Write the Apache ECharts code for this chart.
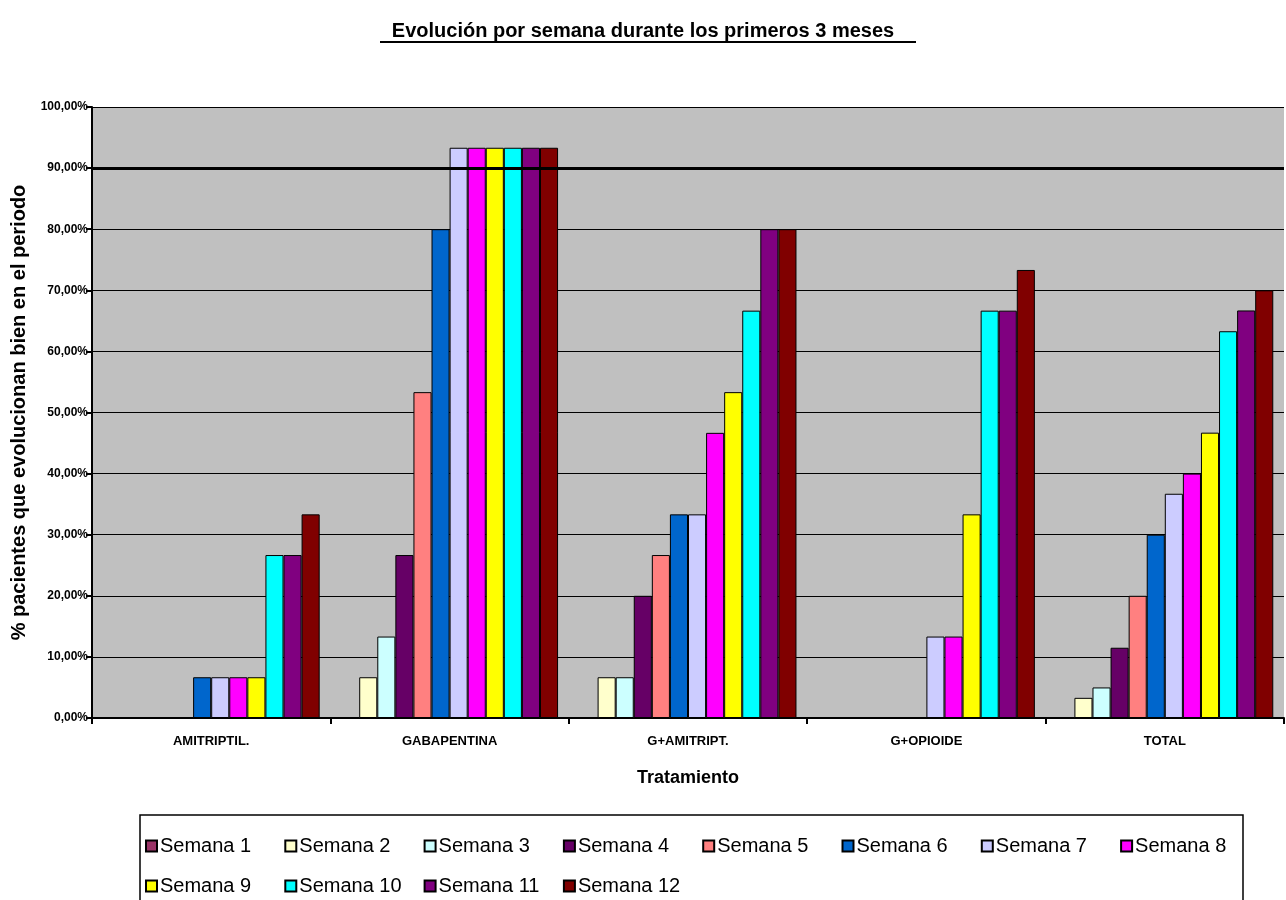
<!DOCTYPE html>
<html>
<head>
<meta charset="utf-8">
<title>Evolución por semana</title>
<script src="https://cdn.jsdelivr.net/npm/echarts@6/dist/echarts.min.js"></script>
<style>
  html, body { margin: 0; padding: 0; background: #fff; }
  #chart { width: 1286px; height: 900px; }
</style>
</head>
<body>
<div id="chart"></div>
<script>
// Treatments on the category axis
const categories = ['AMITRIPTIL.', 'GABAPENTINA', 'G+AMITRIPT.', 'G+OPIOIDE', 'TOTAL'];

// Weekly share of patients doing well (%), one value per treatment
const semana1  = [0, 0, 0, 0, 0];
const semana2  = [0, 6.67, 6.67, 0, 3.3];
const semana3  = [0, 13.33, 6.67, 0, 5];
const semana4  = [0, 26.67, 20, 0, 11.5];
const semana5  = [0, 53.33, 26.67, 0, 20];
const semana6  = [6.67, 80, 33.33, 0, 30];
const semana7  = [6.67, 93.33, 33.33, 13.33, 36.7];
const semana8  = [6.67, 93.33, 46.67, 13.33, 40];
const semana9  = [6.67, 93.33, 53.33, 33.33, 46.7];
const semana10 = [26.67, 93.33, 66.67, 66.67, 63.3];
const semana11 = [26.67, 93.33, 80, 66.67, 66.7];
const semana12 = [33.33, 93.33, 80, 73.33, 70];

const seriesNames = ['Semana 1', 'Semana 2', 'Semana 3', 'Semana 4', 'Semana 5', 'Semana 6',
                     'Semana 7', 'Semana 8', 'Semana 9', 'Semana 10', 'Semana 11', 'Semana 12'];
const seriesValues = [semana1, semana2, semana3, semana4, semana5, semana6,
                      semana7, semana8, semana9, semana10, semana11, semana12];
const seriesColors = ['#993366', '#FFFFCC', '#CCFFFF', '#660066', '#FF8080', '#0066CC',
                      '#CCCCFF', '#FF00FF', '#FFFF00', '#00FFFF', '#800080', '#800000'];

// Y axis ticks and the highlighted reference level
const yTicks = [0, 10, 20, 30, 40, 50, 60, 70, 80, 90, 100];
const referenceLevel = 90;

const FONT = '"Liberation Sans", Arial, sans-serif';

const chart = echarts.init(document.getElementById('chart'), null, { renderer: 'canvas' });

const barSeries = seriesNames.map((name, i) => ({
  name: name,
  type: 'bar',
  data: seriesValues[i],
  barGap: '0%',
  barCategoryGap: '9%',
  itemStyle: { color: seriesColors[i], borderColor: '#000', borderWidth: 1 },
  emphasis: { disabled: true },
  z: 3
}));

// Thick reference line drawn behind the bars
barSeries.push({
  name: 'ref',
  type: 'line',
  data: [],
  z: 1,
  silent: true,
  markLine: {
    silent: true,
    symbol: 'none',
    label: { show: false },
    lineStyle: { color: '#000', width: 3, type: 'solid' },
    data: [{ yAxis: referenceLevel }]
  }
});

// Legend laid out as a fixed grid: 8 entries per row, equal column width
const LEGEND_PER_ROW = 8;
const legends = seriesNames.map((name, i) => ({
  data: [name],
  left: 145 + 139.3 * (i % LEGEND_PER_ROW),
  top: 836 + 40 * Math.floor(i / LEGEND_PER_ROW),
  itemWidth: 11,
  itemHeight: 11,
  icon: 'rect',
  padding: 0,
  selectedMode: false,
  textStyle: { fontFamily: FONT, fontSize: 20, color: '#000', padding: [0, 0, 0, -2] }
}));

chart.setOption({
  animation: false,
  backgroundColor: '#fff',
  title: {
    text: 'Evolución por semana durante los primeros 3 meses',
    left: 'center',
    top: 16,
    textStyle: { fontFamily: FONT, fontSize: 20, fontWeight: 'bold', color: '#000' }
  },
  graphic: [
    {
      type: 'line',
      shape: { x1: 380, y1: 42, x2: 916, y2: 42 },
      style: { stroke: '#000', lineWidth: 2 }
    },
    {
      type: 'rect',
      shape: { x: 140, y: 815, width: 1103, height: 100 },
      style: { fill: 'none', stroke: '#000', lineWidth: 1.5 },
      z: 0
    }
  ],
  legend: legends,
  grid: {
    left: 92,
    right: 2,
    top: 107,
    bottom: 182,
    show: true,
    backgroundColor: '#C0C0C0',
    borderWidth: 0,
    containLabel: false,
    outerBoundsMode: 'none'
  },
  xAxis: {
    type: 'category',
    data: categories,
    name: 'Tratamiento',
    nameLocation: 'middle',
    nameGap: 51,
    nameTextStyle: { fontFamily: FONT, fontSize: 18, fontWeight: 'bold', color: '#000' },
    axisLine: { lineStyle: { color: '#000', width: 2 } },
    axisTick: { show: true, alignWithLabel: false, length: 6, lineStyle: { color: '#000', width: 2 } },
    axisLabel: { fontFamily: FONT, fontSize: 13, fontWeight: 'bold', color: '#000', margin: 17 }
  },
  yAxis: {
    type: 'value',
    min: yTicks[0],
    max: yTicks[yTicks.length - 1],
    interval: 10,
    name: '% pacientes que evolucionan bien en el periodo',
    nameLocation: 'middle',
    nameGap: 62,
    nameTextStyle: { fontFamily: FONT, fontSize: 20, fontWeight: 'bold', color: '#000' },
    axisLine: { show: true, lineStyle: { color: '#000', width: 2 } },
    axisTick: { show: true, length: 6, lineStyle: { color: '#000', width: 2 } },
    axisLabel: {
      fontFamily: FONT, fontSize: 12, fontWeight: 'bold', color: '#000', margin: 4,
      formatter: v => v.toFixed(2).replace('.', ',') + '%'
    },
    splitLine: { show: true, lineStyle: { color: '#000', width: 1 } }
  },
  series: barSeries
});
</script>
</body>
</html>
